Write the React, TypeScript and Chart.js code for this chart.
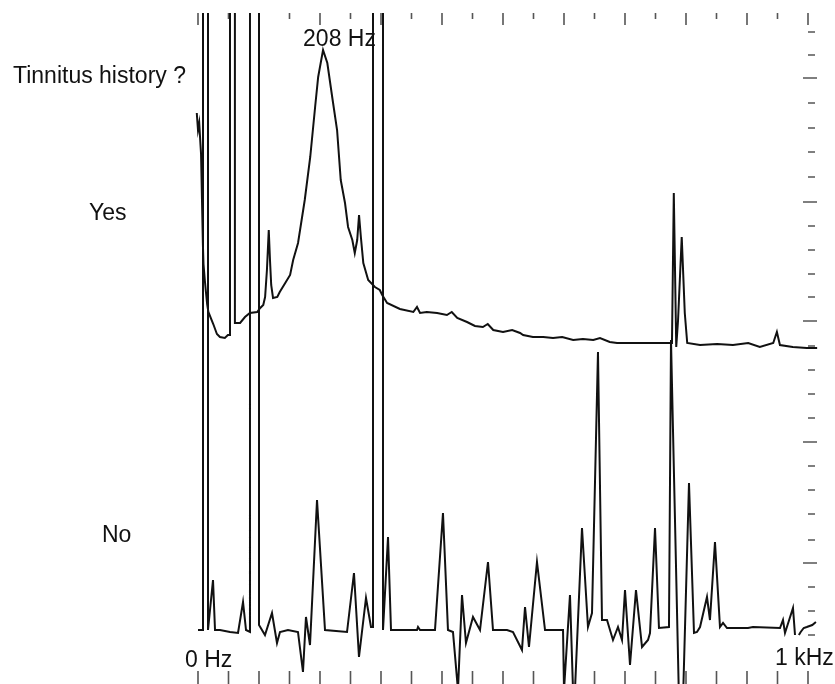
import React, { useEffect, useRef } from "react";
import { Chart, registerables } from "chart.js";

Chart.register(...registerables);

// Frequency axis (Hz) and amplitude axis (arbitrary units, clipped above 671)
const FREQ_MIN = -10;
const FREQ_MAX = 1030;
const AMP_MIN = 0;
const AMP_MAX = 671;
const CLIPPED = 800; // spectral lines that run off the top of the plot

const topTickHz = [0, 50, 100, 150, 200, 250, 300, 350, 400, 450, 500, 550, 600, 650, 700, 750, 800, 850, 900, 950, 1000];
const bottomTickHz = [0, 50, 100, 150, 200, 250, 300, 350, 400, 450, 500, 550, 600, 650, 700, 750, 800, 850, 900, 950, 1000];
const rightTickAmp = [652, 629, 606, 581, 556, 532, 507, 482, 458, 434, 410, 387, 363, 338, 314, 290, 266, 242, 218, 194, 170, 144, 121, 97, 73, 49];
const rightLongTickAmp = [606, 482, 363, 242, 121];

const questionLabel = "Tinnitus history ?";
const groupLabels = ["Yes", "No"];
const axisLabels = ["0 Hz", "1 kHz"];
const peakLabel = "208 Hz";
const peakHz = 205;

// "Yes" group spectrum: [Hz, amplitude]
const yesTrace: [number, number][] = [
  [-2, 571], [0, 554], [2, 561], [4, 540], [5, 530], [6, 500], [7, 470], [8, 440], [9, 420], [11, 405], [13, 392], [15, 380], [17, 372],
  [25, 360], [31, 350], [36, 347], [44, 346], [49, 349], [52.5, 349], [52.5, CLIPPED], [60.5, CLIPPED], [60.5, 361],
  [69, 361], [77, 367], [85, 371], [97, 372], [102, 376], [107, 379], [110, 387], [113, 414], [116, 454],
  [118, 424], [120, 399], [123, 386], [130, 387], [134, 392], [143, 401], [151, 409], [156, 424], [164, 441],
  [175, 484], [184, 527], [192, 577], [197, 607], [205, 634], [212, 621], [220, 587], [228, 554], [234, 504],
  [241, 481], [246, 457], [253, 444], [257, 431], [261, 444], [264, 469], [267, 447], [271, 421], [279, 404],
  [290, 397], [298, 394], [302, 389], [310, 381], [331, 375], [353, 372], [359, 377], [364, 371], [375, 372],
  [392, 371], [408, 369], [416, 372], [425, 366], [441, 362], [454, 358], [467, 357], [475, 360], [484, 354],
  [500, 352], [515, 354], [528, 351], [533, 349], [549, 347], [566, 347], [582, 346], [597, 347], [615, 344],
  [631, 345], [648, 344], [659, 346], [675, 342], [687, 341], [713, 341], [741, 341], [769, 341], [777, 341],
  [780, 491], [784, 337], [787, 364], [793, 447], [798, 371], [802, 341], [823, 339], [851, 340], [877, 339],
  [902, 341], [921, 337], [943, 341], [949, 352], [954, 339], [975, 337], [998, 336], [1015, 336],
];

// "No" group spectrum: [Hz, amplitude]; null = gap
const noTrace: [number, number | null][] = [
  [0, 54], [5, 54], [8.2, 54], [8.2, CLIPPED], [16.4, CLIPPED], [16.4, 54], [24.6, 104], [27.9, 54], [36, 54],
  [52.5, 52], [65.6, 51], [73.8, 82], [78.7, 54], [85.2, 52], [85.2, CLIPPED], [100, CLIPPED], [100, 59],
  [109.8, 49], [121.3, 71], [129.5, 41], [134.4, 52], [147.5, 54], [163.9, 52], [172.1, 12], [177, 67],
  [183.6, 39], [195.1, 184], [208.2, 54], [244.3, 52], [255.7, 111], [263.9, 27], [275.4, 86], [283.6, 57],
  [286.9, 57], [286.9, CLIPPED], [303.3, CLIPPED], [303.3, 54], [311.5, 147], [316.4, 54], [331, 54], [359, 54],
  [360.7, 57], [364, 54], [388.5, 54], [401.6, 171], [409.8, 54], [418, 52], [426.2, -6], [432.8, 89],
  [439.3, 41], [450.8, 67], [462.3, 54], [475.4, 122], [483.6, 54], [506.6, 54], [516.4, 52], [531.1, 34],
  [536.1, 77], [542.6, 37], [555.7, 122], [568.9, 54], [598.4, 54], [600, -6], [609.8, 89], [614.8, -6],
  [618, -6], [629.5, 156], [639.3, 57], [645.9, 71], [655.7, 332], [662.3, 64], [670.5, 64], [680.3, 44],
  [688.5, 57], [695.1, 44], [700, 94], [708.2, 19], [718, 94], [727.9, 37], [737.7, 44], [741, 51],
  [749.2, 156], [755.7, 56], [772.1, 57], [775.4, 344], [788.5, -16], [795.1, -16], [804.9, 201], [813.1, 51],
  [818, 52], [823, 57], [834.4, 87], [839.3, 64], [847.5, 142], [855.7, 57], [860.7, 61], [867.2, 56],
  [901.6, 56], [909.8, 57], [954.1, 56], [959, 64], [962.3, 51], [975.4, 76], [978.7, 49], [981, null],
  [985, 49], [988, 52], [993, 56], [998, 57], [1007, 59], [1013, 62],
];

const INK = "#111";
const TICK = "#555";
const FONT = '23px "Liberation Sans", Arial, sans-serif';

const decorPlugin = {
  id: "decor",
  beforeDatasetsDraw(chart: any) {
    const { ctx, scales } = chart;
    const xs = scales.x;
    const ys = scales.y;
    const top = ys.getPixelForValue(AMP_MAX);
    const bottom = ys.getPixelForValue(AMP_MIN);
    ctx.save();
    ctx.strokeStyle = TICK;
    ctx.lineWidth = 1.6;
    ctx.beginPath();
    topTickHz.forEach((hz) => {
      const x = xs.getPixelForValue(hz);
      const len = hz % 100 === 0 ? 12 : 6;
      ctx.moveTo(x, top);
      ctx.lineTo(x, top + len);
    });
    bottomTickHz.forEach((hz) => {
      const x = xs.getPixelForValue(hz);
      ctx.moveTo(x, bottom - 13);
      ctx.lineTo(x, bottom);
    });
    const xr = xs.getPixelForValue(1000);
    rightTickAmp.forEach((a) => {
      const y = ys.getPixelForValue(a);
      const long = rightLongTickAmp.includes(a);
      ctx.moveTo(xr + (long ? -5 : 0), y);
      ctx.lineTo(xr + (long ? 9 : 7), y);
    });
    ctx.stroke();
    ctx.restore();
  },
  afterDraw(chart: any) {
    const { ctx, scales } = chart;
    const xs = scales.x;
    const ys = scales.y;
    ctx.save();
    ctx.fillStyle = INK;
    ctx.font = FONT;
    ctx.textBaseline = "alphabetic";
    ctx.textAlign = "left";
    ctx.fillText(questionLabel, 13, 83);
    ctx.fillText(groupLabels[0], 89, 220);
    ctx.fillText(groupLabels[1], 102, 542);
    ctx.fillText(axisLabels[0], xs.getPixelForValue(0) - 13, ys.getPixelForValue(AMP_MIN) - 17);
    ctx.fillText(axisLabels[1], xs.getPixelForValue(1000) - 33, ys.getPixelForValue(AMP_MIN) - 19);
    ctx.fillText(peakLabel, xs.getPixelForValue(peakHz) - 20, 46);
    ctx.restore();
  },
};

export default function App() {
  const canvasRef = useRef<HTMLCanvasElement | null>(null);

  useEffect(() => {
    if (!canvasRef.current) return;
    const pxPerHz = 0.61;
    const chart = new Chart(canvasRef.current, {
      type: "line",
      data: {
        datasets: [
          {
            label: "Yes",
            data: yesTrace.map(([x, y]) => ({ x, y })),
            borderColor: INK,
            borderWidth: 2,
            pointRadius: 0,
            tension: 0,
            clip: 0,
          },
          {
            label: "No",
            data: noTrace.map(([x, y]) => ({ x, y })),
            borderColor: INK,
            borderWidth: 2,
            pointRadius: 0,
            tension: 0,
            clip: 0,
            spanGaps: false,
          },
        ],
      },
      options: {
        animation: false,
        responsive: false,
        events: [],
        layout: {
          padding: {
            left: 198 + FREQ_MIN * pxPerHz,
            right: 835 - (198 + FREQ_MAX * pxPerHz),
            top: 13,
            bottom: 0,
          },
        },
        plugins: {
          legend: { display: false },
          tooltip: { enabled: false },
        },
        scales: {
          x: { type: "linear", min: FREQ_MIN, max: FREQ_MAX, display: false },
          y: { type: "linear", min: AMP_MIN, max: AMP_MAX, display: false },
        },
      },
      plugins: [decorPlugin],
    } as any);
    return () => chart.destroy();
  }, []);

  return (
    <div style={{ position: "fixed", left: 0, top: 0, width: 835, height: 684, background: "#fff" }}>
      <canvas ref={canvasRef} width={835} height={684} style={{ display: "block" }} />
    </div>
  );
}
